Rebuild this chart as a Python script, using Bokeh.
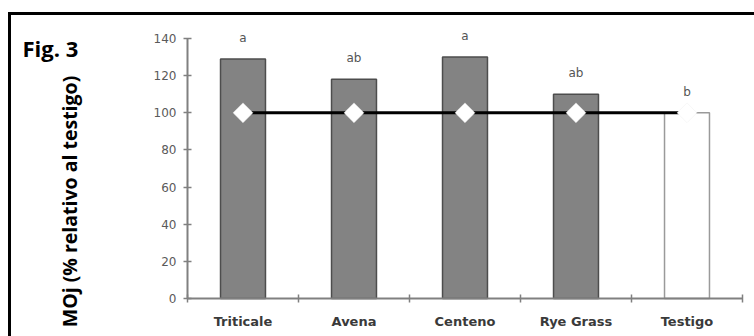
import math
from bokeh.plotting import figure
from bokeh.models import Range1d, FixedTicker, ColumnDataSource
from bokeh.core.properties import value
from bokeh.embed import file_html
from bokeh.resources import INLINE

# Data
categories = ["Triticale", "Avena", "Centeno", "Rye Grass", "Testigo"]
moj_values = [129, 118, 130, 110, 100]       # MOj, % relative to control
control_line = [100, 100, 100, 100, 100]     # control reference (100 %)
letters = ["a", "ab", "a", "ab", "b"]         # significance groups
y_ticks = [0, 20, 40, 60, 80, 100, 120, 140]

x_pos = [i + 0.5 for i in range(len(categories))]
bar_fill = ["#838383"] * 4 + ["white"]
bar_line = ["#4d4d4d"] * 4 + ["#9a9a9a"]

src = ColumnDataSource(dict(x=x_pos, top=moj_values, fill=bar_fill, line=bar_line,
                            lab=letters, ctrl=control_line))

# Canvas geometry: the frame fills the whole canvas, axes sit at data 0
W, H = 743, 321
x_px = 111.0            # pixels per category
y_px = 260 / 140        # pixels per percentage point
origin_x, origin_y = 176, 283   # canvas pixel of data (0, 0), y from top
x0 = -origin_x / x_px
y1 = origin_y / y_px

def to_data(cx, cy):
    return (cx - origin_x) / x_px, (origin_y - cy) / y_px

p = figure(
    frame_width=W, frame_height=H,
    x_range=Range1d(x0, x0 + W / x_px),
    y_range=Range1d(y1 - H / y_px, y1),
    output_backend="svg", toolbar_location=None,
    min_border=0,
)
p.styles = {"border-top": "3px solid black", "border-left": "3px solid black",
            "margin-top": "12px", "margin-left": "8px"}
p.outline_line_color = None
p.xgrid.visible = False
p.ygrid.visible = False
p.background_fill_color = "white"
p.border_fill_color = "white"

# Bars
p.vbar(x="x", top="top", width=0.405, bottom=0, source=src,
       fill_color="fill", line_color="line", line_width=1.5)

# Control line with diamond markers
p.line(x="x", y="ctrl", source=src, line_color="black", line_width=3)
p.scatter(x="x", y="ctrl", source=src, marker="square", angle=math.pi / 4,
          size=14, fill_color="white", line_color="#eeeeee", line_width=0.5)

# Significance letters above bars
p.text(x="x", y="top", text="lab", source=src, text_align="center",
       text_baseline="middle", y_offset=-21, text_font=value("DejaVu Sans"),
       text_font_size="12px", text_color="#555555")

# Axes, fixed at the data origin
ya = p.yaxis[0]
ya.fixed_location = 0
ya.ticker = FixedTicker(ticks=y_ticks)
ya.bounds = (0, 140)
ya.axis_line_color = "#808080"
ya.axis_line_width = 2
ya.major_tick_line_color = "#808080"
ya.major_tick_line_width = 1.5
ya.major_tick_in = 4
ya.major_tick_out = 4
ya.minor_tick_line_color = None
ya.major_label_text_font = "DejaVu Sans"
ya.major_label_text_font_size = "12px"
ya.major_label_text_color = "#5a5a5a"
ya.major_label_standoff = 7

xa = p.xaxis[0]
xa.fixed_location = 0
xa.ticker = FixedTicker(ticks=x_pos, minor_ticks=list(range(len(categories) + 1)))
xa.bounds = (0, len(categories))
xa.major_label_overrides = {x: c for x, c in zip(x_pos, categories)}
xa.axis_line_color = "#808080"
xa.axis_line_width = 2
xa.major_tick_line_color = None
xa.major_tick_in = 0
xa.major_tick_out = 0
xa.minor_tick_line_color = "#808080"
xa.minor_tick_line_width = 1.5
xa.minor_tick_in = 4
xa.minor_tick_out = 4
xa.major_label_text_font = "DejaVu Sans"
xa.major_label_text_font_style = "bold"
xa.major_label_text_font_size = "13px"
xa.major_label_text_color = "#3a3a3a"
xa.major_label_standoff = 11

# Figure caption and vertical axis title
fx, fy = to_data(11, 32)
p.text(x=[fx], y=[fy], text=["Fig. 3"], text_font=value("Open Sans"),
       text_font_style="bold", text_font_size="22px", text_color="black",
       text_align="left", text_baseline="alphabetic")
tx, ty = to_data(58, 186)
p.text(x=[tx], y=[ty], text=["MOj (% relativo al testigo)"], angle=math.pi / 2,
       text_font=value("Open Sans"), text_font_style="bold", text_font_size="19.5px",
       text_color="black", text_align="center", text_baseline="middle")

open("out.html", "w").write(file_html(p, INLINE))
